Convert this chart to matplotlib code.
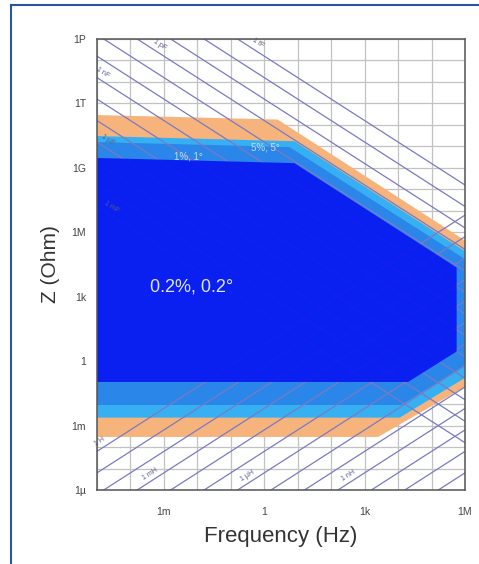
import numpy as np
import matplotlib.pyplot as plt
from matplotlib.lines import Line2D
from matplotlib.ticker import NullFormatter

plt.rcParams['font.family'] = ['Liberation Sans', 'DejaVu Sans']

# accuracy regions, corners as log10(frequency / Hz) and log10(Z / Ohm)
orange_logf = [-5, 0.4, 6, 6, 3.4, -5]
orange_logz = [11.46, 11.25, 5.62, -1.2, -3.53, -3.53]
light_logf = [-5, 0.9, 6, 6, 4.05, -5]
light_logz = [10.48, 10.24, 5.12, -0.78, -2.63, -2.63]
medium_logf = [-5, 0.75, 6, 6, 4.1, -5]
medium_logz = [10.2, 9.97, 4.75, -0.2, -2.04, -2.04]
dark_logf = [-5, 0.9, 5.75, 5.75, 4.3, -5]
dark_logz = [9.46, 9.22, 4.36, 0.45, -0.97, -0.97]

region_labels = ['0.2%, 0.2°', '1%, 1°', '5%, 5°']
region_label_logf = [-2.16, -2.28, 0.02]
region_label_logz = [3.45, 9.55, 9.93]

# reference lines of constant capacitance / inductance
cap_values = [1e-15, 1e-14, 1e-13, 1e-12, 1e-11, 1e-10, 1e-9, 1e-8,
              1e-7, 1e-6, 1e-5, 1e-4, 1e-3]
ind_values = [1e-12, 1e-11, 1e-10, 1e-9, 1e-8, 1e-7, 1e-6, 1e-5,
              1e-4, 1e-3, 1e-2, 1e-1, 1e0]
cap_labels = ['1 fF', '1 pF', '1 nF', '1 µF', '1 mF']
cap_label_c = [1e-15, 1e-12, 1e-9, 1e-6, 1e-3]
cap_label_f = [0.65, 7.6e-4, 1.5e-5, 2.1e-5, 2.8e-5]
ind_labels = ['1 nH', '1 µH', '1 mH', '1 H']
ind_label_l = [1e-9, 1e-6, 1e-3, 1e0]
ind_label_f = [3.2e2, 0.32, 3.8e-4, 1.25e-5]

xticks = [1e-3, 1, 1e3, 1e6]
xticklabels = ['1m', '1', '1k', '1M']
yticks = [1e-6, 1e-3, 1, 1e3, 1e6, 1e9, 1e12, 1e15]
yticklabels = ['1µ', '1m', '1', '1k', '1M', '1G', '1T', '1P']

fig = plt.figure(figsize=(4.79, 5.64), dpi=100)
ax = fig.add_axes([97 / 479, 1 - 490 / 564, 368 / 479, 451 / 564])
ax.set_xscale('log')
ax.set_yscale('log')
ax.set_xlim(1e-5, 1e6)
ax.set_ylim(1e-6, 1e15)

ax.set_xticks([10.0 ** k for k in range(-5, 7)], minor=True)
ax.set_yticks([10.0 ** k for k in range(-6, 16)], minor=True)
ax.xaxis.set_minor_formatter(NullFormatter())
ax.yaxis.set_minor_formatter(NullFormatter())
ax.set_xticks(xticks)
ax.set_xticklabels(xticklabels)
ax.set_yticks(yticks)
ax.set_yticklabels(yticklabels)
ax.tick_params(which='both', length=0, labelsize=7.5, labelcolor='#444444')
ax.tick_params(axis='x', pad=12)
ax.tick_params(axis='y', pad=8)
ax.grid(which='both', color='#c2c2c2', lw=0.9, zorder=0)
ax.set_axisbelow(True)

def fill_region(logf, logz, color, z, alpha=1.0):
    ax.fill(10.0 ** np.array(logf), 10.0 ** np.array(logz), color=color,
            lw=0, zorder=z, alpha=alpha)

fill_region(orange_logf, orange_logz, '#f6b47c', 1)
fill_region(light_logf, light_logz, '#36b0f2', 1.1)
fill_region(medium_logf, medium_logz, '#2a86e8', 1.2)

line_color = '#7a7ac2'
f_ends = np.array([1e-6, 1e7])
for c in cap_values:
    ax.plot(f_ends, 1 / (2 * np.pi * f_ends * c), color=line_color, lw=0.9, zorder=2)
for l in ind_values:
    ax.plot(f_ends, 2 * np.pi * f_ends * l, color=line_color, lw=0.9, zorder=2)

fill_region(dark_logf, dark_logz, '#0818f2', 3, alpha=0.92)

for lab, c, f in zip(cap_labels, cap_label_c, cap_label_f):
    ax.text(f, 2.6 / (2 * np.pi * f * c), lab, rotation=-33, fontsize=5,
            color='#5a5a8a', ha='center', va='center', zorder=4)
for lab, l, f in zip(ind_labels, ind_label_l, ind_label_f):
    ax.text(f, 2.2 * 2 * np.pi * f * l, lab, rotation=33, fontsize=5,
            color='#5a5a8a', ha='center', va='center', zorder=4)

ax.text(10 ** region_label_logf[0], 10 ** region_label_logz[0], region_labels[0],
        fontsize=13, color='#dfe4f6', ha='center', va='center', zorder=5)
for i in (1, 2):
    ax.text(10 ** region_label_logf[i], 10 ** region_label_logz[i], region_labels[i],
            fontsize=7, color='#c8dcf6', ha='center', va='center', zorder=5)

for s in ax.spines.values():
    s.set_color('#555555')
    s.set_linewidth(1.1)
    s.set_zorder(6)

ax.set_xlabel('Frequency (Hz)', fontsize=16, color='#333333', labelpad=7)
ax.set_ylabel('Z (Ohm)', fontsize=15, color='#333333', labelpad=8)

# blue frame of the picture
fig.add_artist(Line2D([11 / 479, 11 / 479], [0, 1 - 5 / 564], color='#2b55a0',
                      lw=1.5, transform=fig.transFigure))
fig.add_artist(Line2D([11 / 479, 1], [1 - 5 / 564, 1 - 5 / 564], color='#2b55a0',
                      lw=1.5, transform=fig.transFigure))

fig.savefig('out.png', dpi=100, facecolor='white')
